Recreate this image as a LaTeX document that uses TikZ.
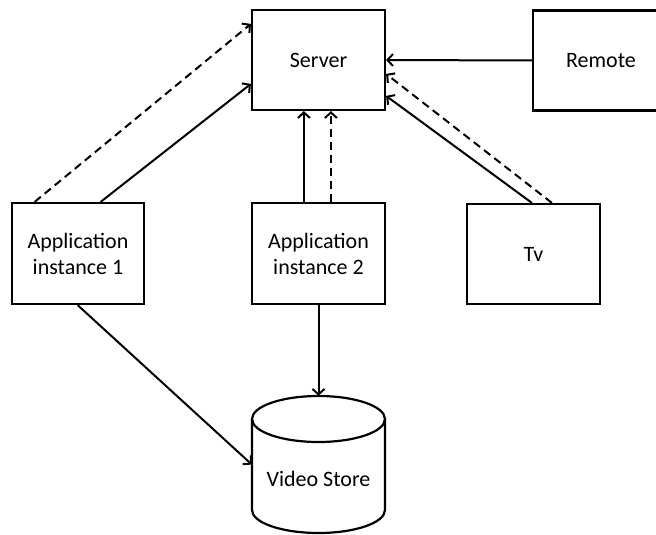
\documentclass[tikz,border=0pt]{standalone}
\usepackage{fontspec}
\setmainfont{Carlito}
\usetikzlibrary{arrows.meta}
\begin{document}
\begin{tikzpicture}[x=1pt,y=1pt,
  box/.style={draw,line width=2.2pt,rectangle,inner sep=0pt,
    font=\fontsize{22}{26}\selectfont,align=center},
  conn/.style={line width=2pt,-{Straight Barb[length=5.5pt,width=12pt,line width=2pt]}},
  dconn/.style={conn,dash pattern=on 8pt off 5pt}]
\useasboundingbox (0,0) rectangle (656,-535);
\clip (0,0) rectangle (656,-535);
\node[box,minimum width=138pt,minimum height=100pt] (rem) at (602,-60.5) {\hspace*{-2pt}Remote};
\node[box,minimum width=133pt,minimum height=100pt] (srv) at (318.5,-60) {Server};
\node[box,minimum width=132.5pt,minimum height=101pt] (a1) at (78,-253.5) {Application\\instance 1};
\node[box,minimum width=133pt,minimum height=101pt] (a2) at (318.5,-253.5) {Application\\instance 2};
\node[box,minimum width=133pt,minimum height=100pt] (tv) at (533.5,-254) {Tv};
% video store cylinder
\node[inner sep=0pt,minimum width=133pt,minimum height=137pt] (vs) at (318.5,-464.5) {};
\draw[line width=2.2pt] (318.5,-419) ellipse [x radius=66.5, y radius=23];
\draw[line width=2.2pt] (252,-419) -- (252,-510) arc[start angle=180,end angle=360,x radius=66.5,y radius=23] -- (385,-419);
\node[font=\fontsize{22}{26}\selectfont] (vst) at (318.5,-479) {Video Store};
% connectors
\draw[dconn] ([xshift=24pt]a1.north west) -- ([yshift=-15pt]srv.north west);
\draw[conn] ([xshift=90pt]a1.north west) -- ([yshift=-75pt]srv.north west);
\draw[conn] ([xshift=53pt]a2.north west) -- ([xshift=53pt]srv.south west);
\draw[dconn] ([xshift=80pt]a2.north west) -- ([xshift=80pt]srv.south west);
\draw[conn] (rem.west) -- (srv.east);
\draw[dconn] ([xshift=86pt]tv.north west) -- ([yshift=-65pt]srv.north east);
\draw[conn] ([xshift=66pt]tv.north west) -- ([yshift=-87pt]srv.north east);
\draw[conn] ([xshift=67pt]a1.south west) -- (vs.west);
\draw[conn] (a2.south) -- (vs.north);
\end{tikzpicture}
\end{document}
